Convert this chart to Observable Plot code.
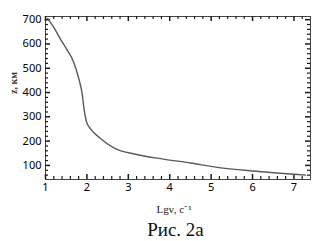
<!DOCTYPE html>
<html>
<head>
<meta charset="utf-8">
<script src="https://cdn.jsdelivr.net/npm/d3@7"></script>
<script src="https://cdn.jsdelivr.net/npm/@observablehq/plot@0.6"></script>
<style>
  body { margin: 0; background: #fff; }
  #chart { width: 335px; font-family: "Liberation Sans Narrow", "DejaVu Sans Condensed", "Liberation Sans", sans-serif; }
  #caption { width: 335px; font-family: "Liberation Serif", "DejaVu Serif", serif; font-size: 19px; line-height: 30px; color: #111; text-align: center; padding-left: 16px; box-sizing: border-box; }
</style>
</head>
<body>
<div id="chart"></div>
<div id="caption">Рис. 2а</div>
<script>
// Data
const lgNu = [1.05, 1.2, 1.36, 1.52, 1.68, 1.8, 1.89, 1.93, 1.99, 2.09, 2.3, 2.65, 3.2, 3.85, 4.5, 5.15, 6.1, 7.28];
const zKm  = [705, 668, 620, 576, 525, 460, 390, 333, 280, 250, 215, 172, 145, 126, 110, 92, 76, 60];

const xMajor = [1, 2, 3, 4, 5, 6, 7];
const xMinor = [1.2, 1.4, 1.6, 1.8, 2.2, 2.4, 2.6, 2.8, 3.2, 3.4, 3.6, 3.8, 4.2, 4.4, 4.6, 4.8, 5.2, 5.4, 5.6, 5.8, 6.2, 6.4, 6.6, 6.8, 7.2];
const yMajor = [100, 200, 300, 400, 500, 600, 700];
const yMinor = [60, 80, 120, 140, 160, 180, 220, 240, 260, 280, 320, 340, 360, 380, 420, 440, 460, 480, 520, 540, 560, 580, 620, 640, 660, 680];

const xLabel = "Lgν, с⁻¹";
const yLabel = "z, км";

const data = lgNu.map((x, i) => ({x, z: zKm[i]}));

const W = 335, H = 215, mt = 16, mr = 25, mb = 36, ml = 45;
const fw = W - ml - mr, fh = H - mt - mb;

const serif = "Liberation Serif";
const tc = "#1a1a1a";

const plot = Plot.plot({
  width: W,
  height: H,
  marginTop: mt,
  marginRight: mr,
  marginBottom: mb,
  marginLeft: ml,
  x: {domain: [1, 7.4], ticks: xMajor, tickSize: 0, tickPadding: 4, tickFormat: d => String(d), label: null},
  y: {domain: [42, 713], ticks: yMajor, tickSize: 0, tickPadding: 4, tickFormat: d => String(d), label: null},
  marks: [
    Plot.frame({stroke: "#444"}),
    // inward ticks: bottom, top, left, right
    Plot.tickX(xMajor, {x: d => d, insetTop: fh - 5, stroke: tc, strokeWidth: 1.5}),
    Plot.tickX(xMinor, {x: d => d, insetTop: fh - 3, stroke: tc, strokeWidth: 1.2}),
    Plot.tickX(xMajor, {x: d => d, insetBottom: fh - 5, stroke: tc, strokeWidth: 1.5}),
    Plot.tickX(xMinor, {x: d => d, insetBottom: fh - 3, stroke: tc, strokeWidth: 1.2}),
    Plot.tickY(yMajor, {y: d => d, insetRight: fw - 5, stroke: tc, strokeWidth: 1.5}),
    Plot.tickY(yMinor, {y: d => d, insetRight: fw - 3, stroke: tc, strokeWidth: 1.2}),
    Plot.tickY(yMajor, {y: d => d, insetLeft: fw - 5, stroke: tc, strokeWidth: 1.5}),
    Plot.tickY(yMinor, {y: d => d, insetLeft: fw - 3, stroke: tc, strokeWidth: 1.2}),
    // curve
    Plot.line(data, {x: "x", y: "z", curve: "monotone-x", stroke: "#5a5a5a", strokeWidth: 1.4}),
    // axis titles
    Plot.text([xLabel], {frameAnchor: "bottom", text: d => d, dy: 33, dx: -4, fontFamily: serif, fontSize: 11, fill: "#222"}),
    Plot.text([yLabel], {frameAnchor: "left", text: d => d, rotate: -90, dx: -32, dy: -4, fontFamily: serif, fontSize: 10, fontWeight: "bold", fill: "#333"})
  ]
});
plot.style.fontSize = "11px";
document.getElementById("chart").appendChild(plot);
</script>
</body>
</html>
